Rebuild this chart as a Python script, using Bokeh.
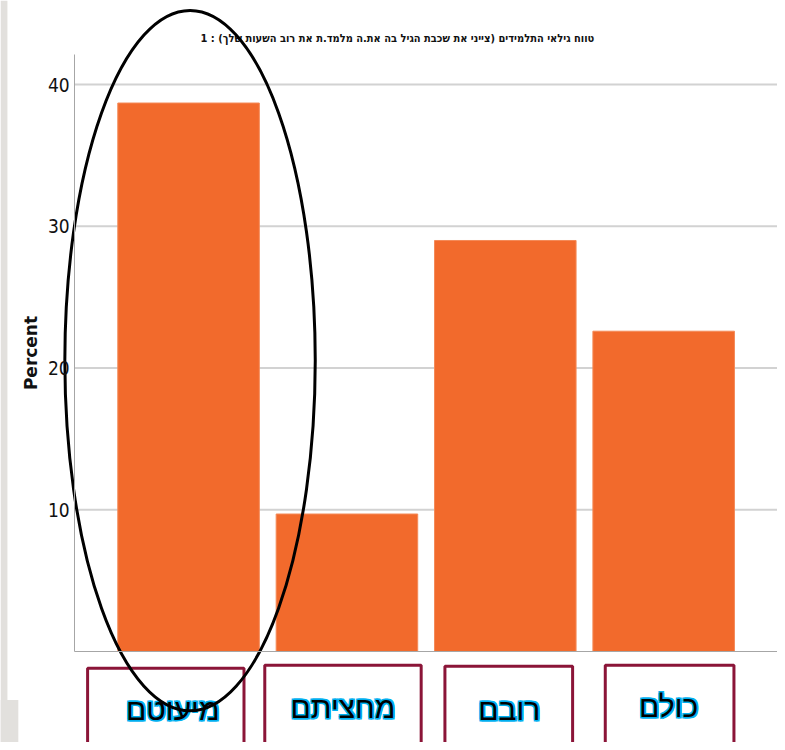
from bokeh.plotting import figure
from bokeh.models import LinearAxis, FixedTicker, Range1d
from bokeh.core.properties import value
from bokeh.embed import file_html
from bokeh.resources import INLINE

# ---- data ----
categories = ["מיעוטם", "מחציתם", "רובם", "כולם"]
percents = [38.7, 9.7, 29.0, 22.6]
y_ticks = [10, 20, 30, 40]
title_text = "טווח גילאי התלמידים (צייני את שכבת הגיל בה את.ה מלמד.ת את רוב השעות שלך) : 1"
y_label = "Percent"

# ---- pixel <-> data helpers (reference picture coordinates) ----
PX_PER_CAT = 160.0
X0_PX = 190.0
ZERO_Y_PX = 658.0
PX_PER_UNIT = 14.325

def dx(X):
    return (X - X0_PX) / PX_PER_CAT

def dy(Y):
    return (ZERO_Y_PX - Y) / PX_PER_UNIT

W, H = 777, 742
p = figure(width=W, height=H, output_backend="svg", toolbar_location=None,
           x_axis_type=None, y_axis_type=None,
           x_range=Range1d(dx(0), dx(785)), y_range=Range1d(dy(750), dy(0)),
           min_border=0, min_border_left=0, min_border_right=0,
           min_border_top=0, min_border_bottom=0)
p.outline_line_color = None
p.background_fill_color = "white"
p.border_fill_color = "white"

# left grey strip (screenshot edge)
p.quad(left=[dx(0)], right=[dx(7)], bottom=[dy(750)], top=[dy(0)],
       fill_color="#e2e0dd", line_color=None)
p.quad(left=[dx(0)], right=[dx(18)], bottom=[dy(750)], top=[dy(707)],
       fill_color="#e2e0dd", line_color=None)

# grid lines
p.segment(x0=[dx(75)] * len(y_ticks), x1=[dx(785)] * len(y_ticks),
          y0=y_ticks, y1=y_ticks, line_color="#d2d2d2", line_width=2)

# bars
xs = list(range(len(categories)))
p.vbar(x=xs, top=percents, bottom=0, width=143 / PX_PER_CAT,
       fill_color="#f26a2c", line_color="#f48a58", line_width=1)

# axes
yaxis = LinearAxis(fixed_location=dx(75), ticker=FixedTicker(ticks=y_ticks),
                   bounds=(0, dy(55)), axis_label=y_label)
yaxis.axis_line_color = "#a6a6a6"
yaxis.axis_line_width = 1
yaxis.major_tick_line_color = None
yaxis.minor_tick_line_color = None
yaxis.major_tick_out = 0
yaxis.major_tick_in = 0
yaxis.major_label_standoff = 5
yaxis.major_label_text_font = "DejaVu Sans Condensed"
yaxis.major_label_text_font_size = "19px"
yaxis.major_label_text_color = "#111111"
yaxis.axis_label_text_font = "DejaVu Sans"
yaxis.axis_label_text_font_style = "bold"
yaxis.axis_label_text_font_size = "17px"
yaxis.axis_label_text_color = "#111111"
yaxis.axis_label_standoff = 4
p.add_layout(yaxis, "left")

xaxis = LinearAxis(fixed_location=0, ticker=FixedTicker(ticks=[]),
                   bounds=(dx(75), dx(785)))
xaxis.axis_line_color = "#a6a6a6"
xaxis.major_tick_line_color = None
xaxis.minor_tick_line_color = None
xaxis.major_label_text_font_size = "0px"
p.add_layout(xaxis, "below")

# title
p.text(x=[dx(401)], y=[dy(38)], text=[title_text], text_align="center",
       text_baseline="middle", text_font=value("DejaVu Sans Condensed"),
       text_font_style="bold", text_font_size="11px", text_color="#111111")

# boxed category labels
box_left_px = [88, 267, 449, 611]
box_right_px = [246, 425, 578, 741]
box_top_px = [675, 672, 673, 672]
p.quad(left=[dx(v) for v in box_left_px], right=[dx(v) for v in box_right_px],
       top=[dy(v) for v in box_top_px], bottom=[dy(760)] * 4,
       fill_color=None, line_color="#8b1538", line_width=3)

label_x_px = [174, 346, 514, 675]
label_y_px = [717, 715, 717, 714]
lx = [dx(v) for v in label_x_px]
ly = [dy(v) for v in label_y_px]
# cyan halo
for ox, oy in [(-1, -1), (1, -1), (-1, 1), (1, 1)]:
    p.text(x=lx, y=ly, text=categories, text_align="center",
           text_baseline="middle", x_offset=ox, y_offset=oy,
           text_font=value("Liberation Sans"), text_font_size="30px",
           text_color="#00b0f0", text_outline_color="#00b0f0")
p.text(x=lx, y=ly, text=categories, text_align="center", text_baseline="middle",
       text_font=value("Liberation Sans"), text_font_size="30px",
       text_color="#000000")

# hand-drawn ellipse
p.ellipse(x=[dx(191.5)], y=[dy(364)], width=[253 / PX_PER_CAT],
          height=[708 / PX_PER_UNIT], fill_color=None,
          line_color="#000000", line_width=3)

open("out.html", "w").write(file_html(p, INLINE))
